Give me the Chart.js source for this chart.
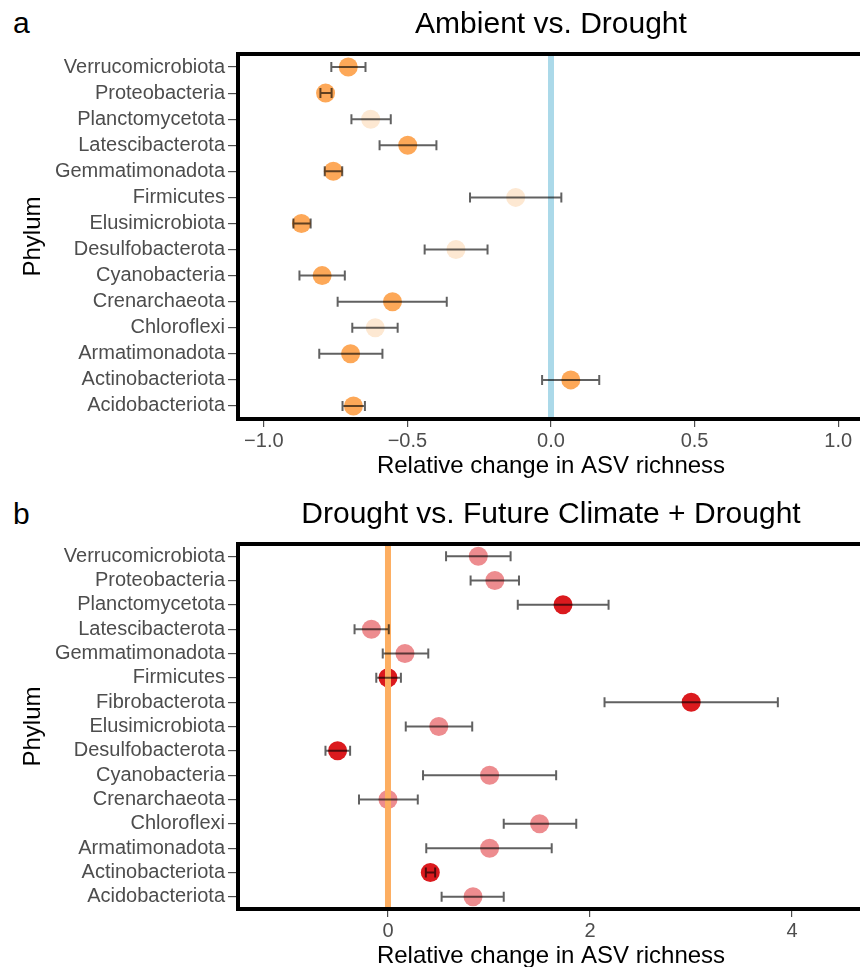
<!DOCTYPE html>
<html>
<head>
<meta charset="utf-8">
<script src="https://cdn.jsdelivr.net/npm/chart.js@4.4.1/dist/chart.umd.min.js"></script>
<style>
    html, body { margin: 0; padding: 0; background: #fff; }
    body { width: 860px; height: 967px; overflow: hidden; position: relative; font-family: "Liberation Sans", Arial, Helvetica, sans-serif; }
    .panel { position: absolute; left: 0; width: 880px; height: 490px; }
    .tag { position: absolute; left: 13px; font-size: 30px; line-height: 30px; color: #000; }
</style>
</head>
<body>
<div class="tag" style="top: 8px;">a</div>
<div class="panel" style="top: 0;"><canvas id="chartA"></canvas></div>
<div class="tag" style="top: 499px;">b</div>
<div class="panel" style="top: 490px;"><canvas id="chartB"></canvas></div>
<script>
// ===== Data =====

var phylaA = ['Verrucomicrobiota', 'Proteobacteria', 'Planctomycetota', 'Latescibacterota', 'Gemmatimonadota',
    'Firmicutes', 'Elusimicrobiota', 'Desulfobacterota', 'Cyanobacteria', 'Crenarchaeota',
    'Chloroflexi', 'Armatimonadota', 'Actinobacteriota', 'Acidobacteriota'];
var meanA = [-0.706, -0.785, -0.628, -0.499, -0.758, -0.123, -0.869, -0.331, -0.797, -0.552, -0.612, -0.698, 0.069, -0.688];
var lowA  = [-0.765, -0.803, -0.695, -0.597, -0.788, -0.282, -0.897, -0.440, -0.876, -0.743, -0.692, -0.807, -0.031, -0.726];
var highA = [-0.646, -0.764, -0.558, -0.399, -0.727, 0.036, -0.837, -0.221, -0.718, -0.363, -0.534, -0.587, 0.168, -0.648];
var sigA  = [1, 1, 0, 1, 1, 0, 1, 0, 1, 1, 0, 1, 1, 1];
var ticksA = [-1, -0.5, 0, 0.5, 1];

var phylaB = ['Verrucomicrobiota', 'Proteobacteria', 'Planctomycetota', 'Latescibacterota', 'Gemmatimonadota',
    'Firmicutes', 'Fibrobacterota', 'Elusimicrobiota', 'Desulfobacterota', 'Cyanobacteria',
    'Crenarchaeota', 'Chloroflexi', 'Armatimonadota', 'Actinobacteriota', 'Acidobacteriota'];
var meanB = [0.894, 1.058, 1.733, -0.164, 0.168, 0.0, 3.002, 0.503, -0.499, 1.006, 0.0, 1.501, 1.006, 0.419, 0.842];
var lowB  = [0.575, 0.818, 1.285, -0.331, -0.052, -0.116, 2.144, 0.176, -0.619, 0.347, -0.287, 1.146, 0.379, 0.375, 0.531];
var highB = [1.214, 1.297, 2.184, 0.008, 0.399, 0.128, 3.860, 0.834, -0.375, 1.665, 0.295, 1.864, 1.621, 0.467, 1.146];
var sigB  = [0, 0, 1, 0, 0, 1, 1, 0, 1, 0, 0, 0, 0, 1, 0];
var ticksB = [0, 2, 4];

var FONT = '"Liberation Sans", Arial, Helvetica, sans-serif';

// ===== Overlay: reference line, error bars, panel border =====

var overlayPlugin = {
    id: 'overlay',
    afterDatasetsDraw: function(chart, args, opts) {
        var ctx = chart.ctx;
        var xs = chart.scales.x;
        var ys = chart.scales.y;
        var area = chart.chartArea;
        ctx.save();

        // vertical reference at 0
        var x0 = xs.getPixelForValue(0);
        ctx.strokeStyle = opts.refColor;
        ctx.lineWidth = 6;
        ctx.beginPath();
        ctx.moveTo(x0, area.top);
        ctx.lineTo(x0, area.bottom);
        ctx.stroke();

        // error bars
        ctx.strokeStyle = 'rgba(0, 0, 0, 0.62)';
        ctx.lineWidth = 2;
        for (var i = 0; i < opts.low.length; i++) {
            var y = ys.getPixelForValue(i);
            var x1 = xs.getPixelForValue(opts.low[i]);
            var x2 = xs.getPixelForValue(opts.high[i]);
            ctx.beginPath();
            ctx.moveTo(x1, y); ctx.lineTo(x2, y);
            ctx.moveTo(x1, y - 5); ctx.lineTo(x1, y + 5);
            ctx.moveTo(x2, y - 5); ctx.lineTo(x2, y + 5);
            ctx.stroke();
        }

        // thick panel border (right side falls outside the page)
        ctx.strokeStyle = '#000';
        ctx.lineWidth = 4;
        ctx.beginPath();
        ctx.moveTo(area.right, area.top);
        ctx.lineTo(area.left, area.top);
        ctx.lineTo(area.left, area.bottom);
        ctx.lineTo(area.right, area.bottom);
        ctx.lineTo(area.right, area.top);
        ctx.stroke();
        ctx.restore();
    }
};

// ===== Panel builder =====

function makePanel(canvasId, cfg) {
    var points = [];
    var colors = [];
    for (var i = 0; i < cfg.labels.length; i++) {
        points.push({ x: cfg.mean[i], y: cfg.labels[i] });
        colors.push(cfg.sig[i] ? cfg.colorSig : cfg.colorNs);
    }

    return new Chart(document.getElementById(canvasId), {
        type: 'scatter',
        data: {
            datasets: [{
                data: points,
                pointRadius: 9.5,
                pointBorderWidth: 0,
                pointBackgroundColor: colors,
                pointHoverRadius: 9.5
            }]
        },
        options: {
            responsive: false,
            animation: false,
            events: [],
            layout: { padding: { left: 0, right: 16, top: 0, bottom: 0 } },
            plugins: {
                legend: { display: false },
                tooltip: { enabled: false },
                title: {
                    display: true,
                    text: cfg.title,
                    fullSize: false,
                    color: '#000',
                    font: { family: FONT, size: 30, weight: 'normal' },
                    padding: { top: 7, bottom: 11 }
                },
                overlay: { refColor: cfg.refColor, low: cfg.low, high: cfg.high }
            },
            scales: {
                x: {
                    type: 'linear',
                    min: cfg.xMin,
                    max: cfg.xMax,
                    afterBuildTicks: function(scale) {
                        scale.ticks = cfg.ticks.map(function(v) { return { value: v }; });
                    },
                    afterFit: function(scale) { scale.height = 71; },
                    ticks: {
                        color: '#4d4d4d',
                        font: { family: FONT, size: 20 },
                        padding: 2.5,
                        maxRotation: 0,
                        autoSkip: false,
                        callback: cfg.tickFormat
                    },
                    grid: { drawOnChartArea: false, drawTicks: true, tickLength: 8, color: '#4d4d4d', lineWidth: 1.2 },
                    border: { display: false },
                    title: {
                        display: true,
                        text: 'Relative change in ASV richness',
                        color: '#000',
                        font: { family: FONT, size: 24 },
                        padding: { top: 0, bottom: 9.6 }
                    }
                },
                y: {
                    type: 'category',
                    labels: cfg.labels,
                    offset: true,
                    afterFit: function(scale) { scale.width = 238; },
                    ticks: {
                        color: '#4d4d4d',
                        font: { family: FONT, size: 20 },
                        padding: 3,
                        autoSkip: false
                    },
                    grid: { offset: false, drawOnChartArea: false, drawTicks: true, tickLength: 10, color: '#4d4d4d', lineWidth: 1.2 },
                    border: { display: false },
                    title: {
                        display: true,
                        text: 'Phylum',
                        color: '#000',
                        font: { family: FONT, size: 24 },
                        padding: { top: 18.6, bottom: 0 }
                    }
                }
            }
        },
        plugins: [overlayPlugin]
    });
}

function setSize(id) {
    var c = document.getElementById(id);
    c.width = 880; c.height = 490;
    c.style.width = '880px'; c.style.height = '490px';
}

// ===== Charts =====

setSize('chartA');
setSize('chartB');

makePanel('chartA', {
    title: 'Ambient vs. Drought',
    labels: phylaA, mean: meanA, low: lowA, high: highA, sig: sigA,
    ticks: ticksA, xMin: -1.09, xMax: 1.09,
    colorSig: 'rgb(253, 168, 88)',
    colorNs: 'rgb(253, 232, 210)',
    refColor: '#abd9e9',
    tickFormat: function(v) { return (v < 0 ? '\u2212' : '') + Math.abs(v).toFixed(1); }
});

makePanel('chartB', {
    title: 'Drought vs. Future Climate + Drought',
    labels: phylaB, mean: meanB, low: lowB, high: highB, sig: sigB,
    ticks: ticksB, xMin: -1.485, xMax: 4.713,
    colorSig: 'rgb(219, 26, 30)',
    colorNs: 'rgb(237, 140, 143)',
    refColor: '#fdae61',
    tickFormat: function(v) { return String(v); }
});
</script>
</body>
</html>
